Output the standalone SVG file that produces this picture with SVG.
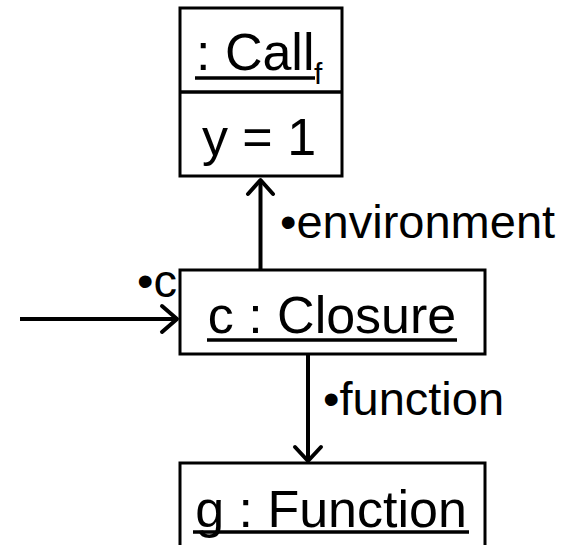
<svg xmlns="http://www.w3.org/2000/svg" width="568" height="545" viewBox="0 0 568 545">
<style>
.box{fill:#fff;stroke:#000;stroke-width:3}
.t{font-family:"Liberation Sans",Arial,sans-serif;font-size:52px;fill:#000}
.l{font-family:"Liberation Sans",Arial,sans-serif;font-size:47px;fill:#000}
.u{stroke:#000;stroke-width:3.5}
.c{stroke:#000;stroke-width:4;fill:none}
.h{stroke:#000;stroke-width:4;fill:none;stroke-linecap:round;stroke-linejoin:round}
</style>
<g id="call">
<rect class="box" x="180" y="8" width="162" height="168"/>
<line class="u" x1="180" y1="92" x2="342" y2="92"/>
<text class="t" x="196" y="70">: Call</text>
<line class="u" x1="195" y1="78" x2="315" y2="78"/>
<text class="t" x="314" y="84" style="font-size:30px">f</text>
<text class="t" x="259" y="155" text-anchor="middle">y = 1</text>
</g>
<g id="closure">
<rect class="box" x="180" y="270" width="305" height="84"/>
<text class="t" x="332" y="333" text-anchor="middle">c : Closure</text>
<line class="u" x1="207" y1="340" x2="457" y2="340"/>
</g>
<g id="function">
<rect class="box" x="180" y="463" width="305" height="100"/>
<text class="t" x="331" y="527" text-anchor="middle">g : Function</text>
<line class="u" x1="193" y1="532" x2="469" y2="532"/>
</g>
<g id="connectors">
<line class="c" x1="260.5" y1="270" x2="260.5" y2="180"/>
<polyline class="h" points="248,194 260.5,180 273,194"/>
<line class="c" x1="308" y1="354" x2="308" y2="460"/>
<polyline class="h" points="295,447 308,461 321,447"/>
<line class="c" x1="20" y1="319" x2="176" y2="319"/>
<polyline class="h" points="162,306 177,319 162,332"/>
<text class="l" x="280" y="238">•environment</text>
<text class="l" x="323" y="415">•function</text>
<text class="l" x="137" y="297">•c</text>
</g>
</svg>
